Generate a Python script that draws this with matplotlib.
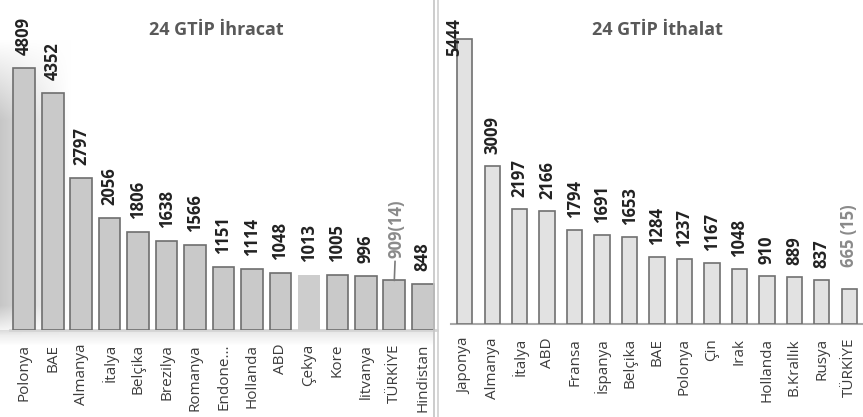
import numpy as np
import matplotlib
matplotlib.use("Agg")
import matplotlib.pyplot as plt
from matplotlib.lines import Line2D

# ---- data ----
exp_countries = ["Polonya", "BAE", "Almanya", "İtalya", "Belçika", "Brezilya", "Romanya",
                 "Endone...", "Hollanda", "ABD", "Çekya", "Kore", "litvanya", "TÜRKİYE", "Hindistan"]
exp_values = [4809, 4352, 2797, 2056, 1806, 1638, 1566, 1151, 1114, 1048, 1013, 1005, 996, 909, 848]
exp_labels = ["4809", "4352", "2797", "2056", "1806", "1638", "1566", "1151", "1114", "1048",
              "1013", "1005", "996", "909(14)", "848"]

imp_countries = ["Japonya", "Almanya", "İtalya", "ABD", "Fransa", "İspanya", "Belçika", "BAE",
                 "Polonya", "Çin", "Irak", "Hollanda", "B.Krallık", "Rusya", "TÜRKİYE"]
imp_values = [5444, 3009, 2197, 2166, 1794, 1691, 1653, 1284, 1237, 1167, 1048, 910, 889, 837, 665]
imp_labels = ["5444", "3009", "2197", "2166", "1794", "1691", "1653", "1284", "1237", "1167",
              "1048", "910", "889", "837", "665 (15)"]

titles = ["24 GTİP İhracat", "24 GTİP İthalat"]

W, H = 863, 417
fig = plt.figure(figsize=(W / 100, H / 100), dpi=100)
fig.patch.set_facecolor("white")
FONT = "Open Sans"

def ax_px(x0, x1, ytop, ybot):
    return fig.add_axes([x0 / W, (H - ybot) / H, (x1 - x0) / W, (ybot - ytop) / H])

# background shading on the left panel
bg = fig.add_axes([0, 0, 1, 1], zorder=-5)
bg.set_xlim(0, W); bg.set_ylim(H, 0); bg.axis("off")
img = np.ones((H, W, 4))
xx = np.arange(W)[None, :]
yy = np.arange(H)[:, None]
shade = np.clip(1 - xx / 70.0, 0, 1) * np.clip(np.minimum((yy - 40) / 80.0, (335 - yy) / 30.0), 0, 1) * 0.22
band = np.where((yy >= 330) & (yy < 345) & (xx < 434), 0.10 * (1 - (yy - 330) / 15.0), 0)
dark = np.clip(shade + band, 0, 1)
img[..., 0] = img[..., 1] = img[..., 2] = 1 - dark
img[..., 3] = 1
bg.imshow(img, extent=(0, W, H, 0), aspect="auto", interpolation="bilinear")

# ---- left chart ----
axL = ax_px(10, 437, 10, 330)
scaleL = 262 / 4809
axL.set_ylim(0, 320 / scaleL)
xL = np.arange(len(exp_countries))
axL.set_xlim(-0.5, len(xL) - 0.5)
facecols = ["#c9c9c9"] * len(xL)
edgecols = ["#6e6e6e"] * len(xL)
facecols[10] = "#cdcdcd"; edgecols[10] = "none"
axL.bar(xL, exp_values, width=0.76, color=facecols, edgecolor=edgecols, linewidth=1.2, zorder=3)
for i, (v, lab) in enumerate(zip(exp_values, exp_labels)):
    if lab.startswith("909"):
        axL.annotate(lab, xy=(i, v), xytext=(2, 22), textcoords="offset pixels",
                     rotation=90, ha="center", va="bottom", fontsize=12, fontweight="bold",
                     color="#8a8a8a", family=FONT,
                     arrowprops=dict(arrowstyle="-", color="#7a7a7a", lw=1.2, shrinkA=0, shrinkB=0))
    else:
        axL.annotate(lab, xy=(i, v), xytext=(0, 13), textcoords="offset pixels",
                     rotation=90, ha="center", va="bottom", fontsize=12, fontweight="bold",
                     color="#222222", family=FONT)
axL.set_xticks(xL)
axL.set_xticklabels(exp_countries, rotation=90, fontsize=11, family=FONT, color="#3c3c3c")
axL.tick_params(axis="x", length=0, pad=10)
axL.set_yticks([])
for s in ["top", "right", "left"]:
    axL.spines[s].set_visible(False)
axL.spines["bottom"].set_color("#d4d4d4")
axL.spines["bottom"].set_linewidth(2)
axL.patch.set_alpha(0)
fig.text(216 / W, 1 - 30 / H, titles[0], ha="center", va="center", fontsize=13,
         fontweight="bold", color="#595959", family=FONT)

# ---- right chart ----
axR = ax_px(451, 863, 10, 324)
scaleR = 285 / 5444
axR.set_ylim(0, 314 / scaleR)
xR = np.arange(len(imp_countries))
axR.set_xlim(-0.5, len(xR) - 0.5)
axR.bar(xR, imp_values, width=0.56, color="#e2e2e2", edgecolor="#707070", linewidth=1.2, zorder=3)
for i, (v, lab) in enumerate(zip(imp_values, imp_labels)):
    if i == 0:
        axR.annotate(lab, xy=(i, v), xytext=(-10, 21), textcoords="offset pixels",
                     rotation=90, ha="center", va="top", fontsize=12, fontweight="bold",
                     color="#222222", family=FONT, zorder=5)
    elif lab.startswith("665"):
        axR.annotate(lab, xy=(i, v), xytext=(0, 22), textcoords="offset pixels",
                     rotation=90, ha="center", va="bottom", fontsize=12, fontweight="bold",
                     color="#8a8a8a", family=FONT)
    else:
        axR.annotate(lab, xy=(i, v), xytext=(0, 12), textcoords="offset pixels",
                     rotation=90, ha="center", va="bottom", fontsize=12, fontweight="bold",
                     color="#222222", family=FONT)
axR.set_xticks(xR)
axR.set_xticklabels(imp_countries, rotation=90, fontsize=11, family=FONT, color="#3c3c3c")
axR.tick_params(axis="x", length=0, pad=10)
axR.set_yticks([])
for s in ["top", "right", "left"]:
    axR.spines[s].set_visible(False)
axR.spines["bottom"].set_color("#a8a8a8")
axR.spines["bottom"].set_linewidth(1.5)
axR.patch.set_alpha(0)
fig.text(657 / W, 1 - 30 / H, titles[1], ha="center", va="center", fontsize=13,
         fontweight="bold", color="#595959", family=FONT)

# separator lines
for xp, c in [(434, "#c4c4c4"), (437.5, "#d0d0d0")]:
    fig.add_artist(Line2D([xp / W, xp / W], [0, 1], color=c, lw=1.2, transform=fig.transFigure))

fig.savefig("out.png", dpi=100, facecolor="white")
